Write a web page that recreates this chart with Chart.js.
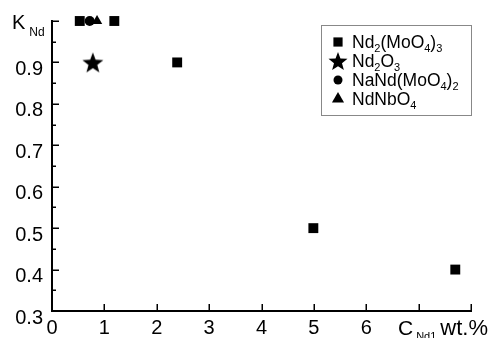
<!DOCTYPE html>
<html><head><meta charset="utf-8">
<script src="https://cdn.jsdelivr.net/npm/chart.js@4.4.0/dist/chart.umd.min.js"></script>
<style>html,body{margin:0;padding:0;background:#fff}#wrap{width:490px;height:338px}</style>
</head><body><div id="wrap"><canvas id="c" width="490" height="338"></canvas></div>
<script>
// ---- data ----
const seriesNames = ['Nd_{2}(MoO_{4})_{3}', 'Nd_{2}O_{3}', 'NaNd(MoO_{4})_{2}', 'NdNbO_{4}'];
const nd2moo43X = [0.53, 1.19, 2.39, 4.99, 7.70];
const nd2moo43Y = [1.0, 1.0, 0.9, 0.5, 0.4];
const nd2o3X = [0.78];
const nd2o3Y = [0.9];
const naNdX = [0.72];
const naNdY = [1.0];
const ndNbX = [0.86];
const ndNbY = [1.0];
const xTickLabels = [0, 1, 2, 3, 4, 5, 6];
const yTickLabels = [0.3, 0.4, 0.5, 0.6, 0.7, 0.8, 0.9];
const yTitle = 'K_{Nd}';
const xTitle = 'C_{Nd1}wt.%';

const FAM = '"Liberation Sans", Arial, Helvetica, sans-serif';
const zip = (xs, ys) => xs.map((x, i) => ({x: x, y: ys[i]}));

function makeStar(R) {
  const c = document.createElement('canvas');
  const s = Math.ceil(R * 2) + 2;
  c.width = s; c.height = s;
  const g = c.getContext('2d');
  g.fillStyle = '#000';
  g.beginPath();
  const ri = R * 0.42;
  for (let i = 0; i < 10; i++) {
    const r = i % 2 ? ri : R;
    const a = -Math.PI / 2 + i * Math.PI / 5;
    g.lineTo(s / 2 + r * Math.cos(a), s / 2 + r * Math.sin(a) + R * 0.095);
  }
  g.closePath();
  g.fill();
  return c;
}
const star = makeStar(11);
const starLeg = makeStar(10);

function parseRich(s) {
  const segs = []; const re = /_\{([^}]*)\}/g; let last = 0, m;
  while ((m = re.exec(s))) {
    if (m.index > last) segs.push({t: s.slice(last, m.index), sub: false});
    segs.push({t: m[1], sub: true});
    last = re.lastIndex;
  }
  if (last < s.length) segs.push({t: s.slice(last), sub: false});
  return segs;
}
function drawRich(ctx, s, x, y, o) {
  let cx = x;
  parseRich(s).forEach((seg, k) => {
    const size = seg.sub ? o.sub : (k > 0 && o.tailSize ? o.tailSize : o.size);
    ctx.font = size + 'px ' + FAM;
    if (seg.sub) cx += (o.gap || 0);
    ctx.fillText(seg.t, cx, y + (seg.sub ? o.dy : 0));
    cx += ctx.measureText(seg.t).width + (seg.sub ? (o.gapAfter || 0) : 0);
  });
}

const legendStyles = [
  {pointStyle: 'rect', radius: 6.5},
  {pointStyle: starLeg, radius: 10},
  {pointStyle: 'circle', radius: 4.5},
  {pointStyle: 'triangle', radius: 7}
];

const inTicks = {
  id: 'inTicks',
  beforeDatasetsDraw(chart) {
    const {ctx, chartArea: a, scales: {x, y}} = chart;
    ctx.save();
    ctx.strokeStyle = '#000';
    ctx.lineWidth = 1.5;
    ctx.beginPath();
    x.ticks.forEach(t => {
      if (t.value === x.min) return;
      const px = Math.round(x.getPixelForValue(t.value)) + 0.25;
      ctx.moveTo(px, a.bottom); ctx.lineTo(px, a.bottom - 7);
    });
    y.ticks.forEach((t, i) => {
      const py = Math.round(y.getPixelForValue(t.value)) + 0.25;
      if (i > 0) { ctx.moveTo(a.left, py); ctx.lineTo(a.left + 7, py); }
      if (i < y.ticks.length - 1) {
        const mid = (t.value + y.ticks[i + 1].value) / 2;
        const pm = Math.round(y.getPixelForValue(mid)) + 0.25;
        ctx.moveTo(a.left, pm); ctx.lineTo(a.left + 4, pm);
      }
    });
    ctx.stroke();
    ctx.restore();
  },
  afterDraw(chart) {
    const ctx = chart.ctx;
    ctx.save();
    ctx.fillStyle = '#000';
    ctx.textAlign = 'left';
    ctx.textBaseline = 'alphabetic';
    // axis titles
    drawRich(ctx, yTitle, 12, 29, {size: 20, sub: 12, dy: 7, gap: 4});
    drawRich(ctx, xTitle, 398, 335, {size: 21, tailSize: 22, sub: 11, dy: 5, gap: 3, gapAfter: 4});
    // legend
    ctx.strokeStyle = '#888';
    ctx.lineWidth = 1;
    ctx.strokeRect(321.5, 25.5, 150, 90);
    chart.data.datasets.forEach((ds, i) => {
      const base = 48 + i * 19;
      ctx.fillStyle = '#000';
      Chart.helpers.drawPoint(ctx, {pointStyle: legendStyles[i].pointStyle, radius: legendStyles[i].radius, rotation: 0, borderWidth: 0}, 338, base - 6);
      ctx.fillStyle = '#000';
      drawRich(ctx, seriesNames[i], 352, base, {size: 17.5, sub: 11, dy: 4, gap: 0});
    });
    ctx.restore();
  }
};

const mk = (i, xs, ys, ps, r) => ({
  label: seriesNames[i], data: zip(xs, ys), pointStyle: ps, pointRadius: r,
  pointHoverRadius: r, backgroundColor: '#000', borderColor: '#000', borderWidth: 0,
  showLine: false, clip: false
});

new Chart(document.getElementById('c'), {
  type: 'scatter',
  data: {datasets: [
    mk(0, nd2moo43X, nd2moo43Y, 'rect', 7),
    mk(1, nd2o3X, nd2o3Y, star, 11),
    mk(2, naNdX, naNdY, 'circle', 5),
    mk(3, ndNbX, ndNbY, 'triangle', 6)
  ]},
  options: {
    responsive: false, animation: false, devicePixelRatio: 1,
    layout: {padding: {top: 21, right: 19, left: 0, bottom: 0}},
    plugins: {legend: {display: false}, tooltip: {enabled: false}},
    scales: {
      x: {
        type: 'linear', min: 0, max: 8,
        ticks: {stepSize: 1, autoSkip: false, maxRotation: 0, color: '#000', padding: 5,
          font: {family: FAM, size: 20},
          callback: v => xTickLabels.includes(v) ? String(v) : ''},
        grid: {display: false, drawTicks: false},
        border: {display: true, color: '#000', width: 2},
        afterFit(s) { s.height = 27; }
      },
      y: {
        type: 'linear', min: 0.3, max: 1.0,
        ticks: {stepSize: 0.1, autoSkip: false, color: '#000', padding: 9, labelOffset: 7,
          font: {family: FAM, size: 20},
          callback: v => yTickLabels.some(t => Math.abs(t - v) < 1e-6) ? v.toFixed(1) : ''},
        grid: {display: false, drawTicks: false},
        border: {display: true, color: '#000', width: 2},
        afterFit(s) { s.width = 52; }
      }
    }
  },
  plugins: [inTicks]
});
</script></body></html>
